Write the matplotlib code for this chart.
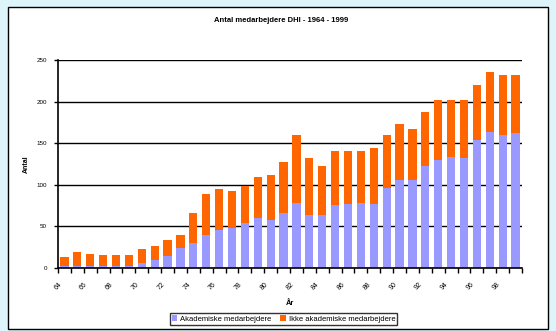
import matplotlib
matplotlib.use("Agg")
import matplotlib.pyplot as plt
from matplotlib.patches import Rectangle

# Medarbejdere pr. år, 1964-1999
aar = list(range(1964, 2000))
akademiske = [3, 2, 2, 2, 2, 2, 6, 10, 15, 24, 30, 40, 46, 48, 54, 60, 58, 66,
              78, 64, 64, 76, 77, 78, 77, 96, 106, 106, 122, 130, 133, 132,
              154, 164, 160, 162]
ikke_akademiske = [10, 17, 15, 14, 14, 14, 17, 17, 19, 16, 36, 49, 49, 44, 45,
                   49, 54, 62, 82, 68, 58, 65, 64, 63, 67, 64, 67, 61, 65, 72,
                   69, 70, 66, 71, 72, 70]
aar_labels = ["64", "66", "68", "70", "72", "74", "76", "78", "80", "82",
              "84", "86", "88", "90", "92", "94", "96", "98"]
y_ticks = [0, 50, 100, 150, 200, 250]

BLAA = "#9999FF"
ORANGE = "#FF6600"

plt.rcParams["font.family"] = ["Liberation Sans", "DejaVu Sans"]

fig = plt.figure(figsize=(5.56, 3.31), dpi=100, facecolor="#DDF5FA")
# hvid diagramflade med sort ramme
fig.patches.append(Rectangle((8 / 556, 1 - 329 / 331), 540 / 556, 322 / 331,
                             transform=fig.transFigure, facecolor="white",
                             edgecolor="black", linewidth=1.0, zorder=-1))

ax = fig.add_axes([58 / 556, 1 - 268 / 331, 464 / 556, 208 / 331])
ax.set_facecolor("none")

x = list(range(len(aar)))
ax.bar(x, akademiske, width=0.64, color=BLAA, label="Akademiske medarbejdere",
       zorder=2)
ax.bar(x, ikke_akademiske, width=0.64, bottom=akademiske, color=ORANGE,
       label="Ikke akademiske medarbejdere", zorder=2)

ax.set_xlim(-0.5, len(aar) - 0.5)
ax.set_ylim(0, 250)
ax.set_yticks(y_ticks)
ax.set_yticklabels([str(v) for v in y_ticks], fontsize=4.5)
ax.yaxis.grid(True, color="black", linewidth=1.0, zorder=1)
ax.set_axisbelow(True)

ax.set_xticks([i - 0.5 for i in range(0, len(aar), 2)])
ax.set_xticklabels(aar_labels, fontsize=5, rotation=45, ha="center")
ax.set_xticks([i - 0.5 for i in range(len(aar) + 1)], minor=True)
ax.tick_params(axis="x", which="both", length=3.5, width=1.0, color="black",
               pad=6)
ax.tick_params(axis="y", length=3, width=1.0, pad=5)

for side in ("top", "right"):
    ax.spines[side].set_visible(False)
for side in ("left", "bottom"):
    ax.spines[side].set_linewidth(1.2)

ax.set_ylabel("Antal", fontsize=5, fontweight="bold", labelpad=5)
ax.set_xlabel("År", fontsize=5.5, fontweight="bold", labelpad=6)
fig.text(0.505, 1 - 20 / 331, "Antal medarbejdere DHI - 1964 - 1999",
         ha="center", va="center", fontsize=5.5, fontweight="bold")

leg = fig.legend(loc="center", bbox_to_anchor=(0.51, 1 - 319 / 331), ncol=2,
                 fontsize=5.5, frameon=True, fancybox=False, handlelength=0.7,
                 handleheight=0.7, handletextpad=0.4, columnspacing=1.2,
                 borderpad=0.25, borderaxespad=0)
leg.get_frame().set_edgecolor("black")
leg.get_frame().set_linewidth(1.0)

fig.savefig("out.png", dpi=100, facecolor=fig.get_facecolor())
